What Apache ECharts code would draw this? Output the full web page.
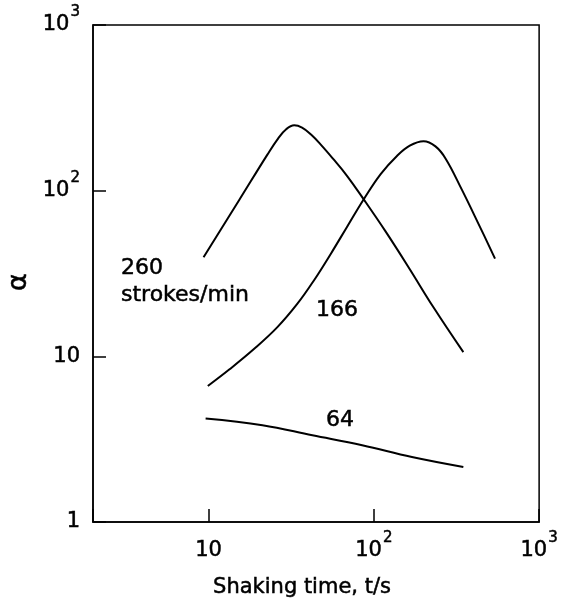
<!DOCTYPE html>
<html>
<head>
<meta charset="utf-8">
<script src="https://cdn.jsdelivr.net/npm/echarts@6/dist/echarts.min.js"></script>
<style>
  html, body { margin: 0; padding: 0; background: #fff; }
  #chart { width: 561px; height: 602px; }
</style>
</head>
<body>
<div id="chart"></div>
<script>
// Shaking time t (s) and alpha for each shaking rate (strokes/min)
const t260 = [9.33, 15.4, 22.7, 26.4, 29.5, 33.0, 36.8, 41.7, 47.9, 56.6, 68.8, 87.1, 118, 162.5, 230, 348];
const a260 = [39.6, 88.4, 165, 207, 235, 248, 240, 218, 189, 156, 123, 88.3, 56.6, 34.4, 19.7, 10.6];

const t166 = [9.9, 13.4, 18.9, 26.1, 34.4, 43.5, 55.1, 68.8, 87.1, 110, 138, 165, 200, 236, 272, 339, 429, 541];
const a166 = [6.62, 8.35, 11.1, 15.0, 20.7, 28.8, 41.8, 60.4, 89.1, 126, 162, 187, 199, 185, 156, 102.5, 63.3, 38.9];

const t64 = [9.6, 21.2, 42.5, 85, 170, 348];
const a64 = [4.21, 3.84, 3.34, 2.91, 2.47, 2.15];

// Tick labels by decade exponent
const decadeLabels = { 0: '{b|1}', 1: '{b|10}', 2: '{b|10}{s|2}', 3: '{b|10}{s|3}' };

const FONT = 'DejaVu Sans';
const TEXT_STROKE = 0.5;

function pairs(xs, ys) { return xs.map((x, i) => [x, ys[i]]); }

function decadeFormatter(v) {
  const e = Math.log10(v);
  const r = Math.round(e);
  if (Math.abs(e - r) > 1e-6) return '';
  return decadeLabels[r] !== undefined ? decadeLabels[r] : '';
}

// Base digits sit in the middle of a tall line; the exponent hangs from its top
const labelRich = {
  b: {
    fontFamily: FONT, fontSize: 21, lineHeight: 40, verticalAlign: 'middle', color: '#000',
    textBorderColor: '#000', textBorderWidth: TEXT_STROKE
  },
  s: {
    fontFamily: FONT, fontSize: 15, lineHeight: 15, verticalAlign: 'top', padding: [0, 0, 0, 1], color: '#000',
    textBorderColor: '#000', textBorderWidth: TEXT_STROKE
  }
};

function curve(name, xs, ys) {
  return {
    name: name,
    type: 'line',
    data: pairs(xs, ys),
    showSymbol: false,
    smooth: 0.4,
    lineStyle: { color: '#000', width: 2 },
    silent: true
  };
}

function note(text, x, y, size, align) {
  return {
    type: 'text',
    style: {
      text: text, x: x, y: y,
      font: size + 'px "' + FONT + '"',
      fill: '#000', stroke: '#000', lineWidth: TEXT_STROKE,
      textAlign: align || 'left', textVerticalAlign: 'middle'
    }
  };
}

const chart = echarts.init(document.getElementById('chart'), null, { renderer: 'canvas' });

chart.setOption({
  backgroundColor: '#fff',
  animation: false,
  grid: {
    left: 93, right: 20, top: 25, bottom: 80,
    show: true, borderColor: '#000', borderWidth: 1.5, backgroundColor: 'transparent'
  },
  xAxis: {
    type: 'log', logBase: 10, min: 2, max: 1000,
    axisLine: { show: true, lineStyle: { color: '#000', width: 1.5 } },
    axisTick: { show: true, inside: true, length: 13, lineStyle: { color: '#000', width: 1.5 } },
    splitLine: { show: false },
    minorTick: { show: false },
    axisLabel: {
      margin: 9, color: '#000', formatter: decadeFormatter, rich: labelRich,
      showMinLabel: true, showMaxLabel: true
    }
  },
  yAxis: {
    type: 'log', logBase: 10, min: 1, max: 1000,
    axisLine: { show: true, lineStyle: { color: '#000', width: 1.5 } },
    axisTick: { show: true, inside: true, length: 13, lineStyle: { color: '#000', width: 1.5 } },
    splitLine: { show: false },
    minorTick: { show: false },
    axisLabel: {
      margin: 13, color: '#000', formatter: decadeFormatter, rich: labelRich,
      showMinLabel: true, showMaxLabel: true
    }
  },
  series: [
    curve('260', t260, a260),
    curve('166', t166, a166),
    curve('64', t64, a64)
  ],
  graphic: [
    note('260', 121, 268, 22),
    note('strokes/min', 121, 295, 22),
    note('166', 337, 310, 22, 'center'),
    note('64', 340, 420, 22, 'center'),
    note('Shaking time, t/s', 302, 588, 21, 'center'),
    {
      type: 'text', rotation: Math.PI / 2, x: 19, y: 282,
      style: {
        text: 'α', x: 0, y: 0, font: '27px "' + FONT + '"',
        fill: '#000', stroke: '#000', lineWidth: TEXT_STROKE,
        textAlign: 'center', textVerticalAlign: 'middle'
      }
    }
  ]
});
</script>
</body>
</html>
